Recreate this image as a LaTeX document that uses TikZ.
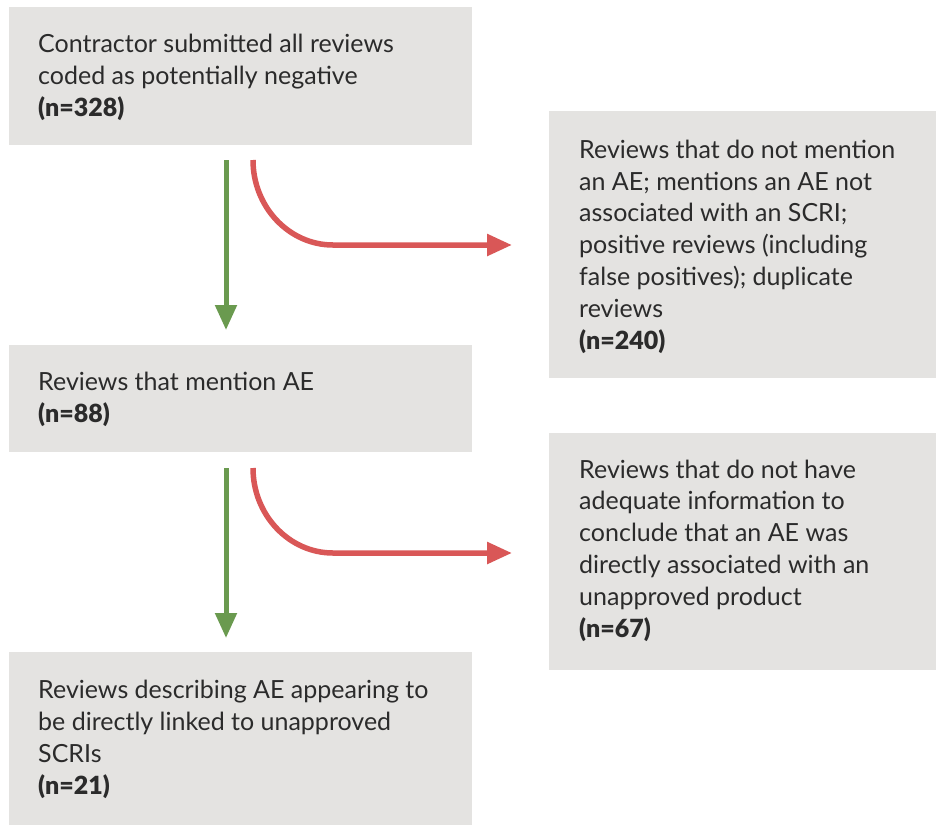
\documentclass[tikz,border=0pt]{standalone}
\usepackage{fontspec}
\setmainfont{Lato}[BoldFont={Lato Black}]
\usetikzlibrary{arrows.meta}
\definecolor{boxgray}{HTML}{E4E3E1}
\definecolor{txtc}{HTML}{2B2B2B}
\definecolor{grn}{HTML}{6A9A4F}
\definecolor{rd}{HTML}{D95757}
\begin{document}
\begin{tikzpicture}[x=1pt,y=-1pt,
  box/.style={fill=boxgray, draw=none, rectangle, inner sep=0pt, anchor=north west},
  txt/.style={text=txtc, align=left, inner sep=0pt, anchor=base west, font=\fontsize{25}{31.8}\selectfont},
  garrow/.style={draw=grn, line width=5pt, -{Triangle[length=25pt,width=21pt]}},
  rarrow/.style={draw=rd, line width=5.5pt, -{Triangle[length=25pt,width=21pt]}}
]
\useasboundingbox (0,0) rectangle (936,825);
\fill[white] (0,0) rectangle (936,825);
% boxes
\node[box, minimum width=463pt, minimum height=138pt] (b1) at (9,7) {};
\node[box, minimum width=387pt, minimum height=267pt] (b2) at (549,111) {};
\node[box, minimum width=463pt, minimum height=107pt] (b3) at (9,345) {};
\node[box, minimum width=387pt, minimum height=237pt] (b4) at (549,433) {};
\node[box, minimum width=463pt, minimum height=173pt] (b5) at (9,652) {};
% texts (anchored at the baseline of their last line)
\node[txt] (t1) at (38,116) {Contractor submitted all reviews\\coded as potentially negative\\\textbf{(n=328)}};
\node[txt] (t2) at (579,349) {Reviews that do not mention\\an AE; mentions an AE not\\associated with an SCRI;\\positive reviews (including\\false positives); duplicate\\reviews\\\textbf{(n=240)}};
\node[txt] (t3) at (38,422) {Reviews that mention AE\\\textbf{(n=88)}};
\node[txt] (t4) at (579,637) {Reviews that do not have\\adequate information to\\conclude that an AE was\\directly associated with an\\unapproved product\\\textbf{(n=67)}};
\node[txt] (t5) at (38,794) {Reviews describing AE appearing to\\be directly linked to unapproved\\SCRIs\\\textbf{(n=21)}};
% connector end points
\coordinate (g1s) at (226,160);
\coordinate (g1e) at (226,330);
\coordinate (g2s) at (226,468);
\coordinate (g2e) at (226,638);
\coordinate (r1s) at (253,160);
\coordinate (r1e) at (512,245);
\coordinate (r2s) at (253,468);
\coordinate (r2e) at (512,553);
% connectors
\draw[garrow] (g1s) -- (g1e);
\draw[garrow] (g2s) -- (g2e);
\draw[rarrow] (r1s) .. controls (253,207) and (289,245) .. (333,245) -- (r1e);
\draw[rarrow] (r2s) .. controls (253,515) and (289,553) .. (333,553) -- (r2e);
\end{tikzpicture}
\end{document}
